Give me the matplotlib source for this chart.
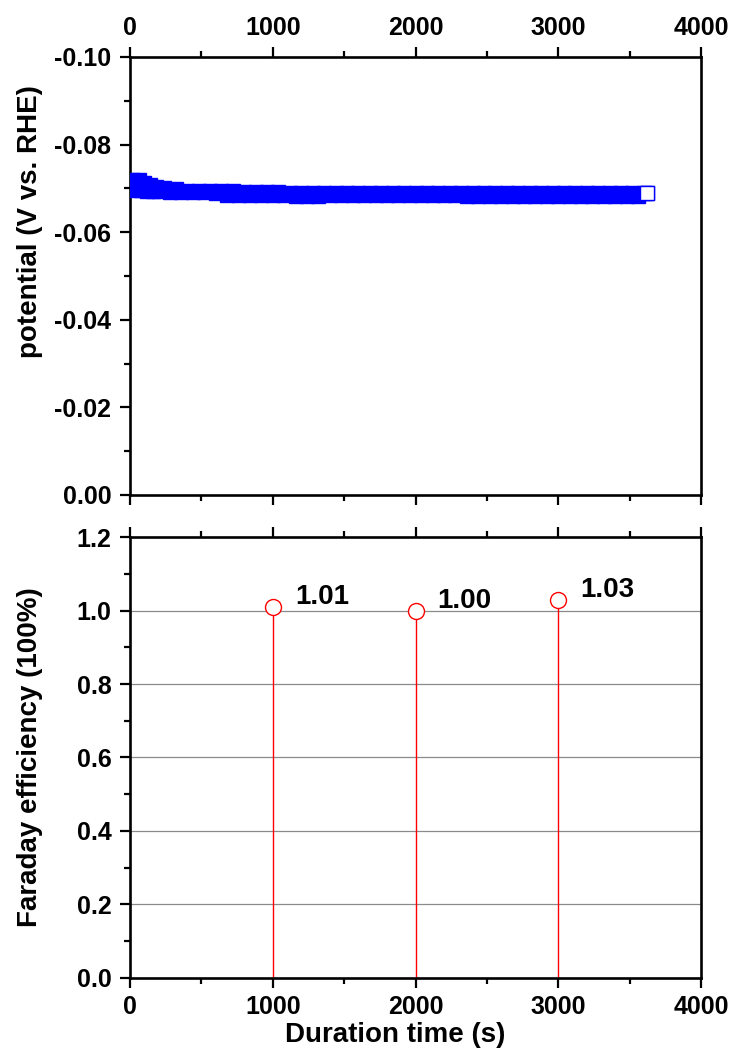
import matplotlib
matplotlib.use("Agg")
import matplotlib.pyplot as plt
from matplotlib.ticker import MultipleLocator, FuncFormatter

plt.rcParams["font.family"] = ["Liberation Sans", "DejaVu Sans"]
plt.rcParams["font.weight"] = "bold"
plt.rcParams["axes.unicode_minus"] = False

# chronopotentiometry record (s, V vs. RHE)
time_s = [
    0, 20, 40, 60, 80, 100, 120, 140, 160, 180, 200,
    240, 280, 320, 360, 400, 440, 480, 520, 560, 600,
    640, 680, 720, 760, 800, 840, 880, 920, 960, 1000,
    1040, 1080, 1120, 1160, 1200, 1240, 1280, 1320, 1360,
    1400, 1440, 1480, 1520, 1560, 1600, 1640, 1680, 1720, 1760,
    1800, 1840, 1880, 1920, 1960, 2000, 2040, 2080, 2120, 2160,
    2200, 2240, 2280, 2320, 2360, 2400, 2440, 2480, 2520, 2560,
    2600, 2640, 2680, 2720, 2760, 2800, 2840, 2880, 2920, 2960,
    3000, 3040, 3080, 3120, 3160, 3200, 3240, 3280, 3320, 3360,
    3400, 3440, 3480, 3520, 3560, 3600, 3620,
]
potential_v = [
    -0.0699, -0.0718, -0.0696, -0.0718, -0.0696, -0.0713, -0.0695, -0.0708, -0.0694, -0.0703, -0.0693,
    -0.0700, -0.0692, -0.0698, -0.0691, -0.0695, -0.0691, -0.0694, -0.0691, -0.0694, -0.0690,
    -0.0693, -0.0686, -0.0693, -0.0686, -0.0692, -0.0686, -0.0692, -0.0686, -0.0692, -0.0686,
    -0.0692, -0.0686, -0.0690, -0.0683, -0.0690, -0.0683, -0.0690, -0.0683, -0.0690,
    -0.0686, -0.0690, -0.0686, -0.0690, -0.0686, -0.0690, -0.0686, -0.0690, -0.0686, -0.0690,
    -0.0686, -0.0690, -0.0686, -0.0690, -0.0686, -0.0690, -0.0686, -0.0690, -0.0686, -0.0690,
    -0.0686, -0.0690, -0.0686, -0.0690, -0.0683, -0.0690, -0.0683, -0.0690, -0.0683, -0.0690,
    -0.0683, -0.0690, -0.0683, -0.0690, -0.0683, -0.0690, -0.0683, -0.0690, -0.0683, -0.0690,
    -0.0683, -0.0690, -0.0683, -0.0690, -0.0683, -0.0690, -0.0683, -0.0690, -0.0683, -0.0690,
    -0.0683, -0.0690, -0.0683, -0.0690, -0.0683, -0.0690, -0.0689,
]

# Faraday efficiency sampled during the run
fe_time_s = [1000, 2000, 3000]
fe_values = [1.01, 1.00, 1.03]
fe_labels = ["1.01", "1.00", "1.03"]

BLUE = "#0000FF"
RED = "#FF0000"
SPINE_W = 1.9
TICK_FS = 18
LABEL_FS = 20


def fmt(decimals):
    # keep "0.00" instead of "-0.00" on the inverted axis
    return FuncFormatter(lambda v, pos: f"{0.0 if abs(v) < 1e-12 else v:.{decimals}f}")


def style_axes(ax):
    for sp in ax.spines.values():
        sp.set_linewidth(SPINE_W)
    ax.tick_params(which="major", direction="out", length=7.5, width=1.6,
                   labelsize=TICK_FS, pad=5)
    ax.tick_params(axis="y", which="major", pad=6)
    ax.tick_params(which="minor", direction="out", length=4.5, width=1.6)
    ax.tick_params(axis="y", which="both", left=True, right=False)
    ax.set_xlim(0, 4000)
    ax.xaxis.set_major_locator(MultipleLocator(1000))
    ax.xaxis.set_minor_locator(MultipleLocator(500))


fig = plt.figure(figsize=(7.33, 10.57), dpi=100)
ax1 = fig.add_axes([0.1774, 0.5317, 0.7789, 0.4144])
ax2 = fig.add_axes([0.1774, 0.0752, 0.7789, 0.4163])

# --- potential vs time ---
style_axes(ax1)
ax1.tick_params(axis="x", which="both", top=True, bottom=True,
                labeltop=True, labelbottom=False)
ax1.plot(time_s[:1], potential_v[:1], "s", ms=9.6, mfc="white", mec=BLUE,
         mew=1.0, zorder=2)
ax1.plot(time_s[1:], potential_v[1:], "s", ms=9.6, mfc=BLUE, mec=BLUE,
         mew=1.0, zorder=3)
ax1.plot(time_s[-1:], potential_v[-1:], "s", ms=9.6, mfc="white", mec=BLUE,
         mew=1.0, zorder=4)
ax1.set_ylim(0.0, -0.10)
ax1.yaxis.set_major_locator(MultipleLocator(0.02))
ax1.yaxis.set_minor_locator(MultipleLocator(0.01))
ax1.yaxis.set_major_formatter(fmt(2))
ax1.set_ylabel("potential (V vs. RHE)", fontsize=LABEL_FS, fontweight="bold")
ax1.yaxis.set_label_coords(-0.152, 0.625)

# --- Faraday efficiency ---
style_axes(ax2)
ax2.tick_params(axis="x", which="both", top=True, bottom=True,
                labeltop=False, labelbottom=True)
ax2.set_ylim(0.0, 1.2)
ax2.yaxis.set_major_locator(MultipleLocator(0.2))
ax2.yaxis.set_minor_locator(MultipleLocator(0.1))
ax2.yaxis.set_major_formatter(fmt(1))
for g in [0.2, 0.4, 0.6, 0.8, 1.0]:
    ax2.axhline(g, color="#8a8a8a", lw=0.9, zorder=1)
ax2.vlines(fe_time_s, 0, fe_values, color=RED, lw=1.0, zorder=2)
ax2.plot(fe_time_s, fe_values, "o", ms=11.5, mfc="white", mec=RED, mew=1.0,
         zorder=3)
for x, y, lab in zip(fe_time_s, fe_values, fe_labels):
    ax2.annotate(lab, (x, y), xytext=(16, 7.3), textcoords="offset points",
                 ha="left", va="center", fontsize=LABEL_FS, fontweight="bold")
ax2.set_ylabel("Faraday efficiency (100%)", fontsize=LABEL_FS,
               fontweight="bold")
ax2.yaxis.set_label_coords(-0.152, 0.5)
ax2.set_xlabel("Duration time (s)", fontsize=LABEL_FS, fontweight="bold")
ax2.xaxis.set_label_coords(0.464, -0.102)

fig.savefig("out.png", dpi=100)
